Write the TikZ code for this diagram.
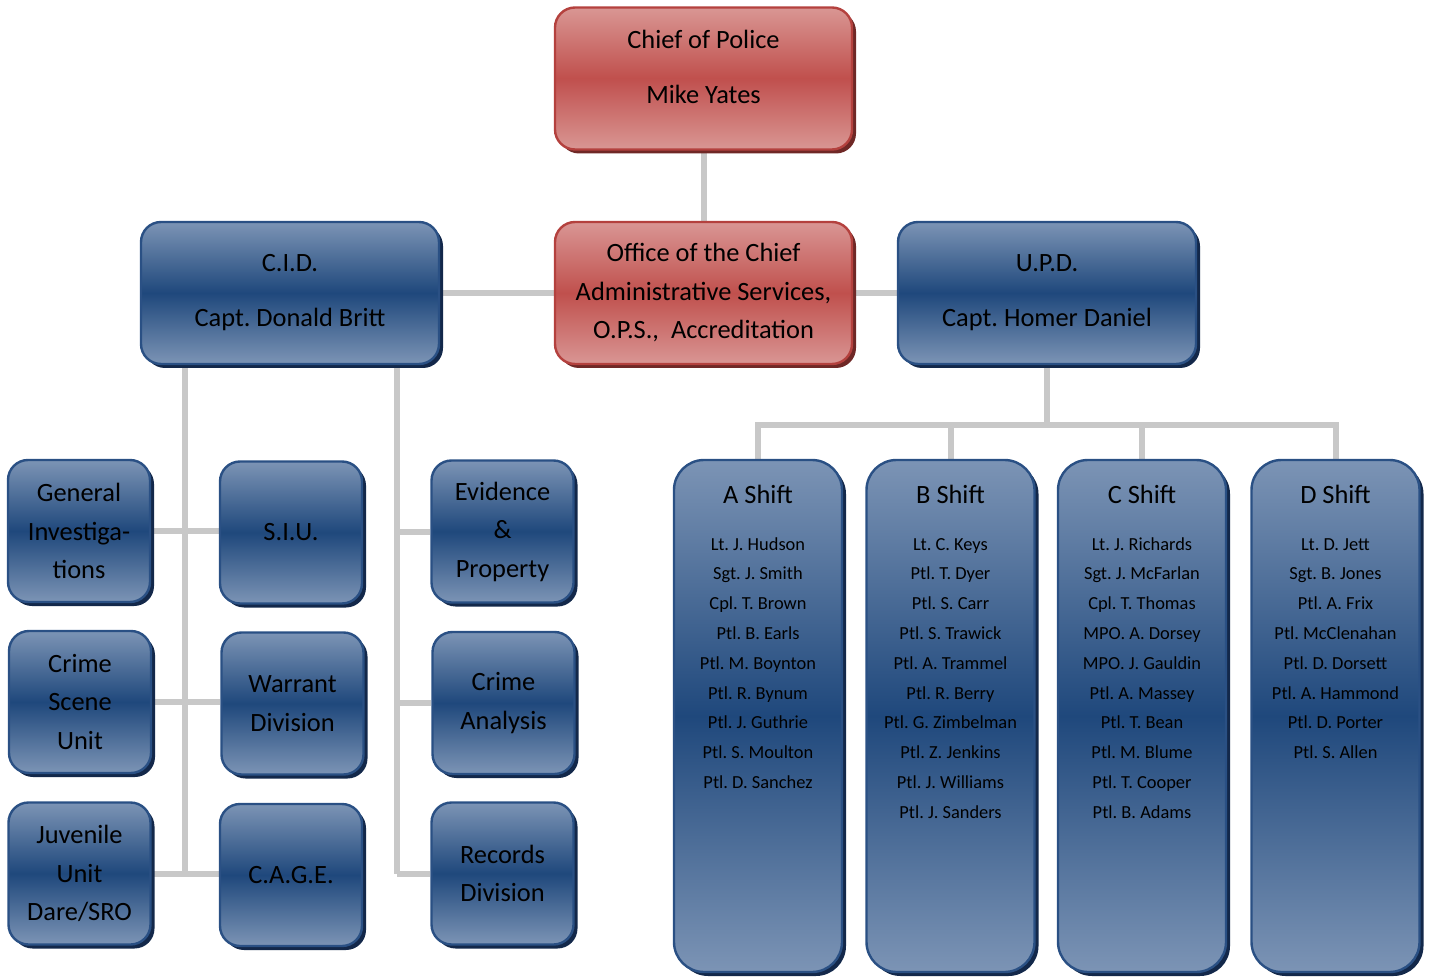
\documentclass[tikz,border=0pt]{standalone}
\usepackage{fontspec}
\setmainfont{Carlito}
\frenchspacing
\usetikzlibrary{shadows,backgrounds}

\definecolor{redTop}{HTML}{D99694}
\definecolor{redMid}{HTML}{C0504D}
\definecolor{redLine}{HTML}{B4413E}
\definecolor{redShadow}{HTML}{6F2826}
\definecolor{blueTop}{HTML}{7C94B5}
\definecolor{blueMid}{HTML}{1F487C}
\definecolor{blueLine}{HTML}{2A5084}
\definecolor{blueShadow}{HTML}{13284A}
\definecolor{connGray}{HTML}{C8C8C8}

\tikzset{
  orgbox/.style={rounded corners=10pt, line width=1.2pt, align=center, inner sep=0pt,
    font=\fontsize{13.2}{19.25}\selectfont},
  redbox/.style={orgbox, draw=redLine, top color=redTop, bottom color=redTop, middle color=redMid,
    drop shadow={shadow xshift=2pt, shadow yshift=-2pt, fill=redShadow, opacity=1},
    minimum width=148.5pt, minimum height=71pt},
  bluebox/.style={orgbox, draw=blueLine, top color=blueTop, bottom color=blueTop, middle color=blueMid,
    drop shadow={shadow xshift=2pt, shadow yshift=-2pt, fill=blueShadow, opacity=1}},
  bigbox/.style={bluebox, minimum width=149pt, minimum height=71pt},
  unitbox/.style={bluebox, minimum width=71pt, minimum height=71pt},
  shiftbox/.style={bluebox, rounded corners=15pt, minimum width=84pt, minimum height=256pt},
  shhead/.style={anchor=base, inner sep=0pt, font=\fontsize{13.2}{16}\selectfont},
  shname/.style={anchor=base, inner sep=0pt, font=\fontsize{9.2}{11}\selectfont},
  conn/.style={draw=connGray, line width=3pt}
}

\begin{document}
\begin{tikzpicture}[x=0.5pt,y=-0.5pt]
\useasboundingbox (0,0) rectangle (1429,978);

%Shape: Chief and office
\node[redbox] (chief) at (703.5,78.5) {Chief of Police\\[8.25pt]Mike Yates\\[-8pt]\mbox{}};
\node[redbox] (office) at (703.5,293) {Office of the Chief\\Administrative Services,\\O.P.S.,\ \ Accreditation};

%Shape: Captains
\node[bigbox] (cid) at (290,293) {C.I.D.\\[8.25pt]Capt. Donald Britt};
\node[bigbox] (upd) at (1047,293) {U.P.D.\\[8.25pt]Capt. Homer Daniel};

%Shape: C.I.D. units
\node[unitbox] (gen) at (79,531) {General\\Investiga-\\tions};
\node[unitbox] (siu) at (291,532.5) {S.I.U.};
\node[unitbox] (evid) at (502.5,531.5) {Evidence\\\&\\Property};
\node[unitbox] (scene) at (80,702) {Crime\\Scene\\Unit};
\node[unitbox] (warrant) at (292.5,703.5) {Warrant\\Division};
\node[unitbox] (analysis) at (503.5,703) {Crime\\Analysis};
\node[unitbox] (juv) at (79.5,873.5) {Juvenile\\Unit\\Dare/SRO};
\node[unitbox] (cage) at (291,875) {C.A.G.E.};
\node[unitbox] (rec) at (502.5,873.5) {Records\\Division};

%Shape: Shifts
\node[shiftbox] (aSh) at (758,716) {};
\node[shiftbox] (bSh) at (950.5,716) {};
\node[shiftbox] (cSh) at (1142,716) {};
\node[shiftbox] (dSh) at (1335.5,716) {};

% Text Node
\node[shhead] (aHead) at (758,503) {A Shift};
\node[shname] (a1) at (758,550) {Lt. J. Hudson};
\node[shname] (a2) at (758,579.8) {Sgt. J. Smith};
\node[shname] (a3) at (758,609.6) {Cpl. T. Brown};
\node[shname] (a4) at (758,639.4) {Ptl. B. Earls};
\node[shname] (a5) at (758,669.2) {Ptl. M. Boynton};
\node[shname] (a6) at (758,699) {Ptl. R. Bynum};
\node[shname] (a7) at (758,728.8) {Ptl. J. Guthrie};
\node[shname] (a8) at (758,758.6) {Ptl. S. Moulton};
\node[shname] (a9) at (758,788.4) {Ptl. D. Sanchez};
% Text Node
\node[shhead] (bHead) at (950.5,503) {B Shift};
\node[shname] (b1) at (950.5,550) {Lt. C. Keys};
\node[shname] (b2) at (950.5,579.8) {Ptl. T. Dyer};
\node[shname] (b3) at (950.5,609.6) {Ptl. S. Carr};
\node[shname] (b4) at (950.5,639.4) {Ptl. S. Trawick};
\node[shname] (b5) at (950.5,669.2) {Ptl. A. Trammel};
\node[shname] (b6) at (950.5,699) {Ptl. R. Berry};
\node[shname] (b7) at (950.5,728.8) {Ptl. G. Zimbelman};
\node[shname] (b8) at (950.5,758.6) {Ptl. Z. Jenkins};
\node[shname] (b9) at (950.5,788.4) {Ptl. J. Williams};
\node[shname] (b10) at (950.5,818.2) {Ptl. J. Sanders};
% Text Node
\node[shhead] (cHead) at (1142,503) {C Shift};
\node[shname] (c1) at (1142,550) {Lt. J. Richards};
\node[shname] (c2) at (1142,579.8) {Sgt. J. McFarlan};
\node[shname] (c3) at (1142,609.6) {Cpl. T. Thomas};
\node[shname] (c4) at (1142,639.4) {MPO. A. Dorsey};
\node[shname] (c5) at (1142,669.2) {MPO. J. Gauldin};
\node[shname] (c6) at (1142,699) {Ptl. A. Massey};
\node[shname] (c7) at (1142,728.8) {Ptl. T. Bean};
\node[shname] (c8) at (1142,758.6) {Ptl. M. Blume};
\node[shname] (c9) at (1142,788.4) {Ptl. T. Cooper};
\node[shname] (c10) at (1142,818.2) {Ptl. B. Adams};
% Text Node
\node[shhead] (dHead) at (1335.5,503) {D Shift};
\node[shname] (d1) at (1335.5,550) {Lt. D. Jett};
\node[shname] (d2) at (1335.5,579.8) {Sgt. B. Jones};
\node[shname] (d3) at (1335.5,609.6) {Ptl. A. Frix};
\node[shname] (d4) at (1335.5,639.4) {Ptl. McClenahan};
\node[shname] (d5) at (1335.5,669.2) {Ptl. D. Dorsett};
\node[shname] (d6) at (1335.5,699) {Ptl. A. Hammond};
\node[shname] (d7) at (1335.5,728.8) {Ptl. D. Porter};
\node[shname] (d8) at (1335.5,758.6) {Ptl. S. Allen};

\coordinate (cidL) at ([xshift=-52.5pt]cid.south);
\coordinate (cidR) at ([xshift=53.5pt]cid.south);
\coordinate (bus) at ([yshift=-30pt]upd.south);

\begin{scope}[on background layer]
%Straight Lines: top
\draw[conn] (chief.south) -- (office.north);
\draw[conn] (office.west) -- (cid.east);
\draw[conn] (office.east) -- (upd.west);
%Straight Lines: C.I.D.
\draw[conn] (cidL) -- (cidL |- juv.east);
\draw[conn] (gen.east) -- (gen.east -| siu.west);
\draw[conn] (scene.east) -- (scene.east -| warrant.west);
\draw[conn] (juv.east) -- (juv.east -| cage.west);
\draw[conn] (cidR) -- (cidR |- rec.west);
\draw[conn] (cidR |- evid.west) -- (evid.west);
\draw[conn] (cidR |- analysis.west) -- (analysis.west);
\draw[conn] (cidR |- rec.west) -- (rec.west);
%Straight Lines: U.P.D.
\draw[conn] (upd.south) -- (bus);
\draw[conn] (aSh.north) |- (bus) -| (dSh.north);
\draw[conn] (bSh.north) -- (bSh.north |- bus);
\draw[conn] (cSh.north) -- (cSh.north |- bus);
\end{scope}

\end{tikzpicture}
\end{document}
